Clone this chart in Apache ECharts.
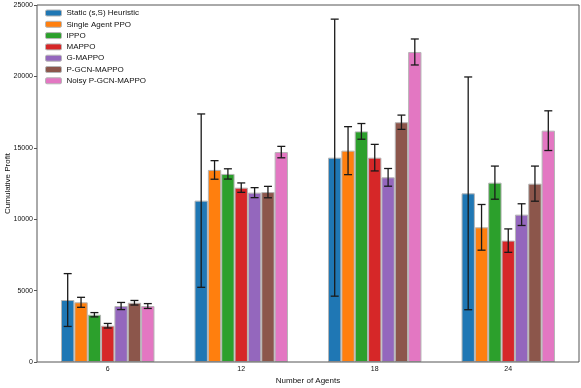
<!DOCTYPE html>
<html>
<head>
<meta charset="utf-8">
<script src="https://cdn.jsdelivr.net/npm/echarts@6/dist/echarts.min.js"></script>
<style>
  html, body { margin: 0; padding: 0; background: #fff; }
  #main { width: 581px; height: 388px; }
</style>
</head>
<body>
<div id="main"></div>
<script>
// number of agents on the x axis
var categories = ['6', '12', '18', '24'];

var methods = ['Static (s,S) Heuristic', 'Single Agent PPO', 'IPPO', 'MAPPO',
               'G-MAPPO', 'P-GCN-MAPPO', 'Noisy P-GCN-MAPPO'];
var colors = ['#1f77b4', '#ff7f0e', '#2ca02c', '#d62728', '#9467bd', '#8c564b', '#e377c2'];

// mean cumulative profit, one row per method (6, 12, 18, 24 agents)
var means = [
    [4340, 11300, 14310, 11810],
    [4180, 13450, 14800, 9430],
    [3310, 13170, 16150, 12560],
    [2540, 12210, 14310, 8500],
    [3920, 11860, 12930, 10320],
    [4150, 11900, 16790, 12490],
    [3920, 14700, 21710, 16200]
];

// half-length of the error bars
var errors = [
    [1850, 6070, 9700, 8150],
    [350, 650, 1680, 1600],
    [150, 360, 550, 1160],
    [160, 330, 930, 820],
    [250, 350, 620, 760],
    [160, 400, 500, 1230],
    [170, 400, 910, 1390]
];

var yTicks = [0, 5000, 10000, 15000, 20000, 25000];

var myChart = echarts.init(document.getElementById('main'));

var font = 'Liberation Sans';
var series = [];

methods.forEach(function (name, m) {
    series.push({
        name: name,
        type: 'bar',
        barWidth: '10%',
        barGap: '0%',
        itemStyle: {
            color: colors[m],
            borderColor: '#b5b5b5',
            borderWidth: 1
        },
        data: means[m]
    });
});

var errData = [];
methods.forEach(function (name, m) {
    means[m].forEach(function (v, i) {
        errData.push([i, m, v + errors[m][i], v - errors[m][i]]);
    });
});

series.push({
    type: 'custom',
    silent: true,
    z: 5,
    encode: { x: 0, y: [2, 3] },
    data: errData,
    renderItem: function (params, api) {
        var idx = api.value(0);
        var m = api.value(1);
        var top = api.coord([idx, api.value(2)]);
        var bot = api.coord([idx, api.value(3)]);
        var band = api.size([1, 0])[0];
        var x = top[0] + (m - 3) * band * 0.1;
        var cap = 4;
        var st = { stroke: '#1a1a1a', lineWidth: 1.3 };
        return {
            type: 'group',
            children: [
                { type: 'line', shape: { x1: x, y1: top[1], x2: x, y2: bot[1] }, style: st },
                { type: 'line', shape: { x1: x - cap, y1: top[1], x2: x + cap, y2: top[1] }, style: st },
                { type: 'line', shape: { x1: x - cap, y1: bot[1], x2: x + cap, y2: bot[1] }, style: st }
            ]
        };
    }
});

option = {
    animation: false,
    backgroundColor: '#fff',
    // the category band is a bit narrower than the axes frame, like matplotlib margins
    grid: {
        left: 41,
        right: 6,
        top: 5,
        bottom: 26,
        containLabel: false,
        outerBoundsMode: 'none'
    },
    graphic: [{
        type: 'rect',
        silent: true,
        z: 10,
        shape: { x: 37, y: 5, width: 542, height: 357 },
        style: { fill: null, stroke: '#555', lineWidth: 1 }
    }],
    legend: {
        orient: 'vertical',
        left: 40,
        top: 4,
        itemWidth: 16,
        itemHeight: 6,
        itemGap: 3.3,
        data: methods,
        itemStyle: { borderColor: '#b5b5b5', borderWidth: 1 },
        textStyle: { fontFamily: font, fontSize: 8, lineHeight: 8, color: '#111' }
    },
    xAxis: {
        type: 'category',
        data: categories,
        name: 'Number of Agents',
        nameLocation: 'middle',
        nameGap: 15,
        nameMoveOverlap: false,
        nameTextStyle: { fontFamily: font, fontSize: 8, color: '#111' },
        axisLine: { show: false },
        axisTick: { alignWithLabel: true, length: 3, lineStyle: { color: '#555' } },
        axisLabel: { fontFamily: font, fontSize: 7, color: '#111', margin: 4 }
    },
    yAxis: {
        type: 'value',
        min: 0,
        max: 25000,
        interval: 5000,
        offset: 4,
        name: 'Cumulative Profit',
        nameLocation: 'middle',
        nameGap: 25,
        nameMoveOverlap: false,
        nameTextStyle: { fontFamily: font, fontSize: 8, color: '#111' },
        splitLine: { show: false },
        axisLine: { show: false },
        axisTick: { show: true, length: 3, lineStyle: { color: '#555' } },
        axisLabel: {
            fontFamily: font, fontSize: 7, color: '#111', margin: 4,
            formatter: function (v) { return yTicks.indexOf(v) >= 0 ? String(v) : ''; }
        }
    },
    series: series
};

myChart.setOption(option);
</script>
</body>
</html>
